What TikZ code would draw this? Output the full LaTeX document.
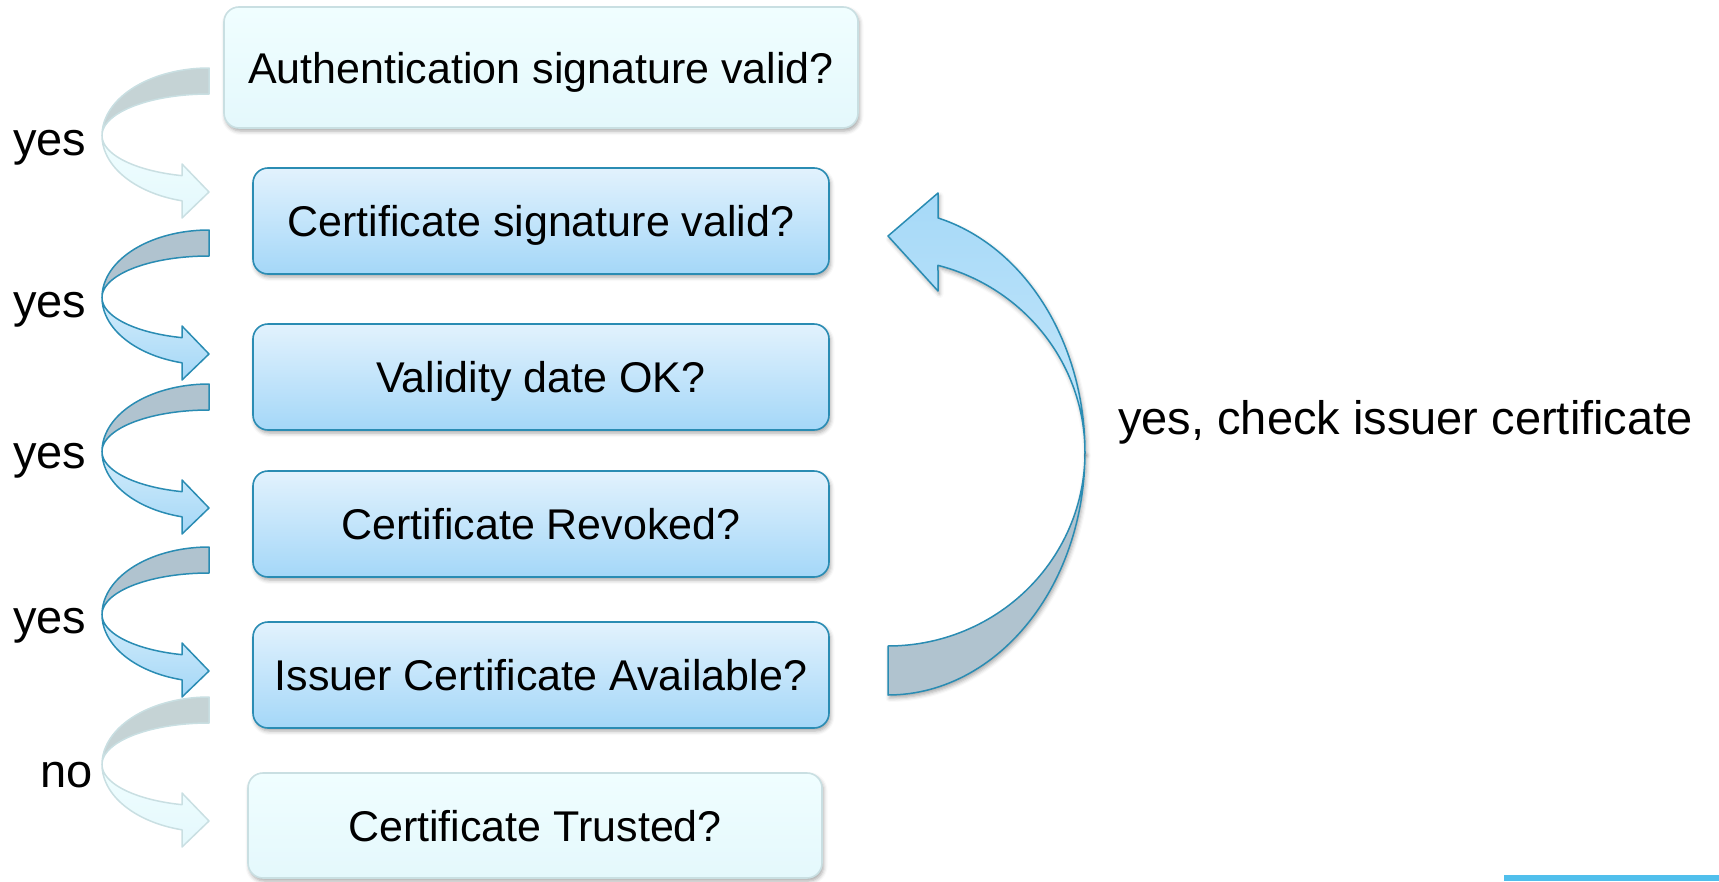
\documentclass[tikz,border=0pt]{standalone}
\usepackage{fontspec}
\setmainfont{Liberation Sans}
\usetikzlibrary{shadows.blur}

\definecolor{boxtop}{HTML}{E2F2FD}
\definecolor{boxbot}{HTML}{A4D7F8}
\definecolor{boxline}{HTML}{2A8CB3}
\definecolor{paletop}{HTML}{F0FEFF}
\definecolor{palebot}{HTML}{E4F8FC}
\definecolor{paleline}{HTML}{C9DFE2}
\definecolor{backgray}{HTML}{B0C3CF}
\definecolor{palegray}{HTML}{C5D3D5}
\definecolor{arrowtop}{HTML}{D4EDFB}
\definecolor{arrowbot}{HTML}{A4D7F7}
\definecolor{bigblue}{HTML}{A6D9F8}
\definecolor{bigblue2}{HTML}{C6E7FA}
\definecolor{barblue}{HTML}{50BFEC}

\tikzset{
  softshadow/.style={blur shadow={shadow xshift=1.5pt, shadow yshift=-3pt,
      shadow blur radius=4pt, shadow opacity=35}},
  stepbox/.style={rounded corners=15pt, draw=boxline, line width=1.6pt,
      top color=boxtop, bottom color=boxbot, minimum width=576pt,
      minimum height=106pt, text height=31pt, text depth=0pt, inner sep=0pt,
      font=\fontsize{43}{50}\selectfont, softshadow},
  palebox/.style={stepbox, draw=paleline, top color=paletop, bottom color=palebot},
  answer/.style={inner sep=0pt, font=\fontsize{47}{52}\selectfont},
  curl back/.style={fill=backgray, draw=boxline, line width=1.5pt, line join=round},
  curl front/.style={top color=arrowtop, bottom color=arrowbot, draw=boxline,
      line width=1.5pt, line join=round},
  pale back/.style={fill=palegray, draw=paleline, line width=1.5pt, line join=round},
  pale front/.style={top color=paletop, bottom color=palebot, draw=paleline,
      line width=1.5pt, line join=round},
}

% curved "yes/no" arrow: #1 = top of the band, #2 = back style, #3 = front style
\newcommand{\curlarrow}[3]{%
  \begin{scope}[shift={(209,#1)}]
    \path[#2]
      plot[variable=\t, domain=0:90, samples=40] ({-107*sin(\t)}, {67.5-67.5*cos(\t)})
      -- plot[variable=\t, domain=180:270, samples=40] ({107*cos(\t)}, {67.5+41.5*sin(\t)})
      -- cycle;
    \path[#3]
      plot[variable=\t, domain=0:75.4, samples=40] ({-107*cos(\t)}, {67.5+67.5*sin(\t)})
      -- (-27,150) -- (0,124) -- (-27,96)
      -- plot[variable=\t, domain=104.6:180, samples=40] ({107*cos(\t)}, {67.5+41.5*sin(\t)})
      -- cycle;
  \end{scope}}

\begin{document}
\begin{tikzpicture}[x=1pt, y=-1pt]
  \useasboundingbox (0,0) rectangle (1719,881);

  % check boxes
  \node[palebox, minimum width=634pt, minimum height=121pt] (auth) at (541,67.5)
       {Authentication signature valid?};
  \node[stepbox] (csig)  at (541,221) {Certificate signature valid?};
  \node[stepbox] (vdate) at (541,377) {Validity date OK?};
  \node[stepbox] (revok) at (541,524) {Certificate Revoked?};
  \node[stepbox] (issue) at (541,675) {Issuer Certificate Available?};
  \node[palebox, minimum width=574pt, minimum height=105pt] (trust) at (535,825.5)
       {Certificate Trusted?};

  % curved arrows between the boxes
  \curlarrow{68}{pale back}{pale front}
  \curlarrow{230}{curl back}{curl front}
  \curlarrow{384}{curl back}{curl front}
  \curlarrow{547}{curl back}{curl front}
  \curlarrow{697}{pale back}{pale front}

  % answers next to the arrows
  \node[answer, anchor=base west] (a1) at (13,155) {yes};
  \node[answer, anchor=base west] (a2) at (13,317) {yes};
  \node[answer, anchor=base west] (a3) at (13,468) {yes};
  \node[answer, anchor=base west] (a4) at (13,633) {yes};
  \node[answer, anchor=base west] (a5) at (40,787) {no};

  % loop back to the issuer's certificate
  \path[fill=backgray, draw=boxline, line width=1.5pt, line join=round, softshadow]
    plot[variable=\t, domain=0:90, samples=60] ({888+197*sin(\t)}, {452.5+242.5*cos(\t)})
    -- plot[variable=\t, domain=0:90, samples=60] ({888+197*cos(\t)}, {452.5+193.5*sin(\t)})
    -- cycle;
  \path[top color=bigblue, bottom color=bigblue2, draw=boxline, line width=1.5pt,
        line join=round, softshadow]
    plot[variable=\t, domain=0:75.3, samples=60] ({888+197*cos(\t)}, {452.5-242.5*sin(\t)})
    -- (938,193) -- (888,236) -- (938,291)
    -- plot[variable=\t, domain=-75.3:0, samples=60] ({888+197*cos(\t)}, {452.5+193.5*sin(\t)})
    -- cycle;
  \node[answer, anchor=base west] (loop) at (1118,434) {yes, check issuer certificate};

  % footer bar
  \fill[barblue] (1504,875) rectangle (1719,881);
\end{tikzpicture}
\end{document}
